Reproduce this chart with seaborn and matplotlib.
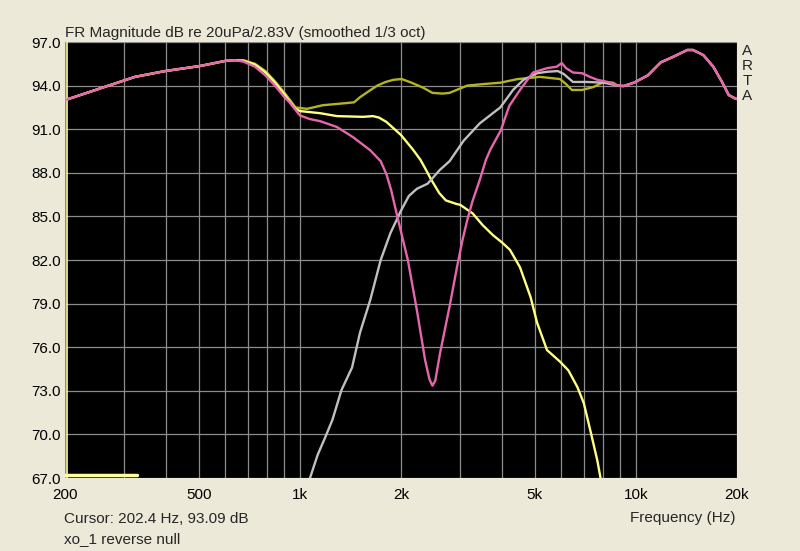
import numpy as np
import pandas as pd
import matplotlib
matplotlib.use("Agg")
import matplotlib.pyplot as plt
from matplotlib.ticker import FixedLocator, NullFormatter
import seaborn as sns

# --- Data ---
# shared low end (curves lie on top of each other below ~640 Hz)
low_freq = [200, 254, 323, 397, 505, 600, 640]
low_db = [93.0, 93.8, 94.6, 95.0, 95.35, 95.7, 95.75]

# shared high end (curves merge above ~9 kHz)
high_freq = [9200, 9870, 10850, 11860, 12970, 14220, 14800, 15880, 17000, 18100, 18900, 19800, 20000]
high_db = [93.97, 94.2, 94.7, 95.6, 96.0, 96.45, 96.45, 96.1, 95.3, 94.2, 93.35, 93.1, 93.08]

# reverse null (pink)
null_freq = [680, 735, 790, 843, 900, 935, 1000, 1070, 1150, 1290, 1440, 1620, 1740, 1810, 1870,
             1950, 2096, 2228, 2360, 2430, 2480, 2530, 2614, 2790, 2935, 3050, 3150, 3260,
             3430, 3580, 3690, 3960, 4200, 4520, 4940, 5440, 5810, 6020, 6200, 6500, 6920,
             7300, 7680, 8240, 8830]
null_db = [95.65, 95.3, 94.7, 94.0, 93.2, 92.8, 91.95, 91.7, 91.55, 91.15, 90.45, 89.55, 88.8, 87.9, 86.8,
           85.0, 82.0, 78.6, 75.1, 73.8, 73.35, 73.7, 75.6, 78.8, 81.5, 83.4, 84.75, 86.0,
           87.5, 88.9, 89.6, 90.9, 92.6, 93.7, 94.9, 95.2, 95.3, 95.55, 95.2, 94.9, 94.85,
           94.6, 94.4, 94.25, 94.0]

# normal sum (olive)
sum_freq = [680, 735, 790, 843, 900, 935, 970, 1050, 1170, 1380, 1450, 1510, 1600, 1700, 1800,
            1900, 2010, 2150, 2330, 2480, 2660, 2790, 3000, 3150, 3500, 3950, 4450, 5180, 5950,
            6200, 6450, 6920, 7470, 8040, 8550, 8830]
sum_db = [95.75, 95.5, 95.0, 94.3, 93.5, 93.0, 92.5, 92.4, 92.65, 92.8, 92.85, 93.2, 93.6, 94.0, 94.25,
          94.4, 94.45, 94.2, 93.85, 93.5, 93.45, 93.5, 93.8, 94.0, 94.1, 94.2, 94.45, 94.6, 94.45,
          94.1, 93.7, 93.7, 93.9, 94.25, 94.2, 94.0]

# woofer (yellow), runs off the bottom edge near 8 kHz
woofer_freq = [680, 735, 790, 843, 900, 935, 970, 1000, 1150, 1290, 1540, 1650, 1720, 1810, 2000,
               2170, 2284, 2400, 2450, 2600, 2720, 2930, 3000, 3270, 3500, 3760, 4000, 4220, 4520,
               4860, 5080, 5440, 5950, 6300, 6700, 7000, 7350, 7680, 7850, 8000]
woofer_db = [95.7, 95.45, 94.9, 94.2, 93.4, 92.85, 92.4, 92.25, 92.1, 91.9, 91.85, 91.9, 91.8, 91.5, 90.6,
             89.6, 88.9, 88.0, 87.6, 86.6, 86.1, 85.85, 85.8, 85.2, 84.4, 83.7, 83.2, 82.7, 81.5,
             79.45, 77.7, 75.8, 75.0, 74.4, 73.25, 72.15, 70.1, 68.2, 67.0, 66.0]

# tweeter (gray), rises from below the bottom edge near 1 kHz
tweeter_freq = [1040, 1072, 1130, 1190, 1250, 1330, 1430, 1510, 1620, 1740, 1860, 2000, 2110, 2230,
                2400, 2610, 2790, 3070, 3430, 3950, 4310, 4630, 5080, 5440, 5860, 6100, 6500, 7160,
                8040, 8830]
tweeter_db = [66.5, 67.0, 68.6, 69.8, 71.0, 73.05, 74.6, 77.0, 79.25, 82.0, 83.85, 85.4, 86.4, 86.9,
              87.25, 88.2, 88.8, 90.2, 91.4, 92.5, 93.7, 94.4, 94.85, 94.95, 95.0, 94.8, 94.25, 94.25,
              94.2, 94.0]

# short trace lying on the bottom edge
edge_freq = [200, 327]
edge_db = [67.2, 67.2]

cursor_freq = 202.4

y_ticks = [67, 70, 73, 76, 79, 82, 85, 88, 91, 94, 97]
x_ticks = [200, 500, 1000, 2000, 5000, 10000, 20000]
x_labels = ["200", "500", "1k", "2k", "5k", "10k", "20k"]
x_minor = [300, 400, 600, 700, 800, 900, 3000, 4000, 6000, 7000, 8000, 9000]

bg = "#ECE9D8"
grid_col = "#8C8C8C"

sns.set_style("dark")
plt.rcParams["font.family"] = ["Liberation Sans", "DejaVu Sans"]

fig = plt.figure(figsize=(8, 5.51), dpi=100, facecolor=bg)
ax = fig.add_axes([65 / 800, 73 / 551, 672 / 800, 436 / 551])
ax.set_facecolor("black")

series = [
    (pd.DataFrame({"freq": low_freq + sum_freq + high_freq, "db": low_db + sum_db + high_db}), "#B4B41E"),
    (pd.DataFrame({"freq": low_freq + woofer_freq, "db": low_db + woofer_db}), "#FFFF80"),
    (pd.DataFrame({"freq": tweeter_freq + high_freq, "db": tweeter_db + high_db}), "#C0C0C0"),
    (pd.DataFrame({"freq": low_freq + null_freq + high_freq, "db": low_db + null_db + high_db}), "#E666AE"),
]

ax.axvline(cursor_freq, color="#FFFF90", lw=1.2, zorder=3)
sns.lineplot(x=edge_freq, y=edge_db, ax=ax, color="#FFFFA0", lw=2.5, zorder=3)
for df, col in series:
    sns.lineplot(data=df, x="freq", y="db", ax=ax, color=col, lw=1.7, zorder=4)

ax.set_xscale("log")
ax.set_xlim(200, 20000)
ax.set_ylim(67, 97)
ax.xaxis.set_major_locator(FixedLocator(x_ticks))
ax.set_xticklabels(x_labels)
ax.xaxis.set_minor_locator(FixedLocator(x_minor))
ax.xaxis.set_minor_formatter(NullFormatter())
ax.set_yticks(y_ticks)
ax.set_yticklabels([f"{v:.1f}" for v in y_ticks])
ax.grid(True, which="both", axis="x", color=grid_col, lw=0.9)
ax.grid(True, which="major", axis="y", color=grid_col, lw=0.9)
fs = 11
ax.tick_params(which="both", length=0, labelsize=fs, colors="black")
ax.tick_params(axis="x", pad=7)
ax.tick_params(axis="y", pad=3)
ax.set_xlabel("")
ax.set_ylabel("")
for s in ax.spines.values():
    s.set_visible(False)

fig.text(65 / 800, 1 - 37 / 551, "FR Magnitude dB re 20uPa/2.83V (smoothed 1/3 oct)",
         fontsize=fs, va="baseline", ha="left")
fig.text(64 / 800, 1 - 523 / 551, "Cursor: 202.4 Hz, 93.09 dB", fontsize=fs, va="baseline")
fig.text(64 / 800, 1 - 543 / 551, "xo_1 reverse null", fontsize=fs, va="baseline")
fig.text(736 / 800, 1 - 522 / 551, "Frequency (Hz)", fontsize=fs, va="baseline", ha="right")
fig.text(747 / 800, 1 - 44 / 551, "\n".join("ARTA"), fontsize=fs, va="top", ha="center",
         linespacing=1.1)

fig.savefig("out.png", dpi=100, facecolor=bg)
